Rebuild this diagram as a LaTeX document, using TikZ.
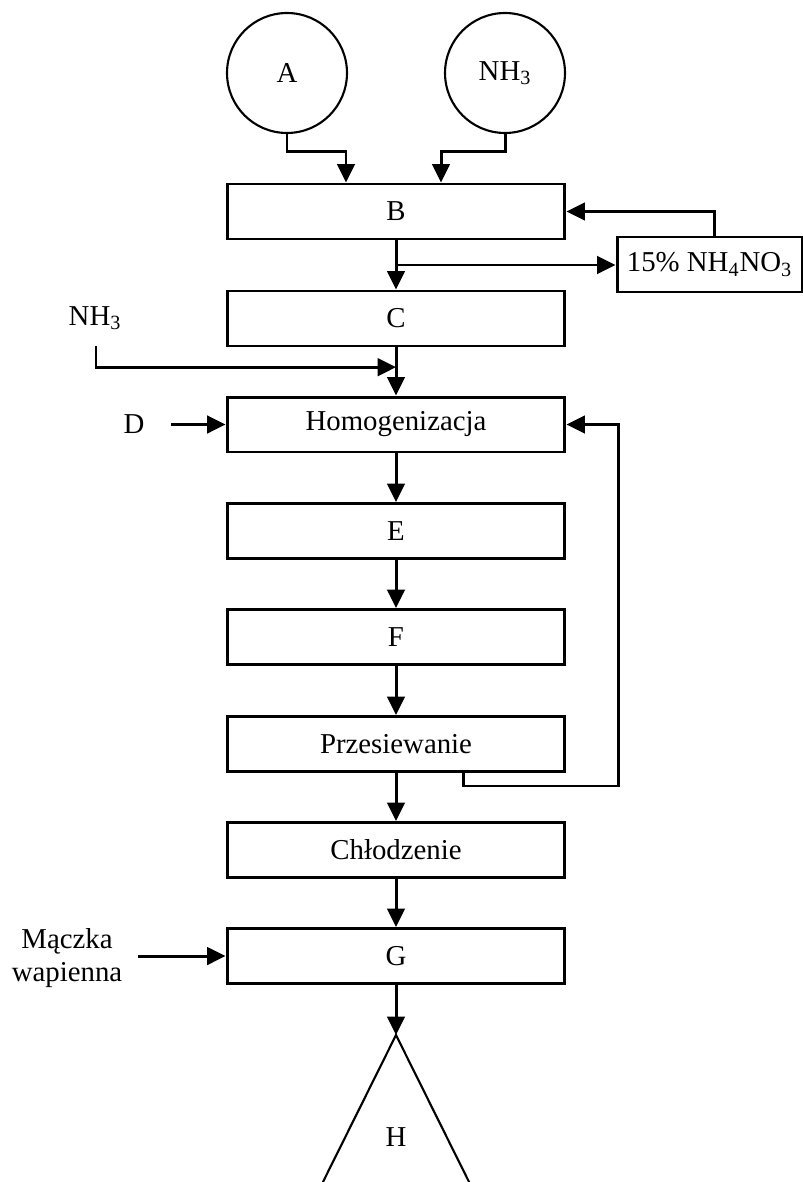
\documentclass[tikz,border=0pt]{standalone}
\usepackage{fontspec}
\setmainfont{Liberation Serif}
\usetikzlibrary{positioning,calc,arrows.meta}
\tikzset{>={Triangle[length=10.5pt,width=10pt]}}
\tikzset{
  proc/.style={draw, line width=1.7pt, minimum width=6.76cm, minimum height=1.1cm, inner sep=0pt},
  feed/.style={draw, circle, line width=1.2pt, minimum size=2.4cm, inner sep=0pt},
  flow/.style={line width=1.7pt}
}

\begin{document}
\begin{tikzpicture}[x=0.02cm, y=-0.02cm, font=\fontsize{16.4}{18.8}\selectfont]
        \useasboundingbox (0,0) rectangle (803,1182);
		% surowce
		\node[feed] (A) at (287,73) {A};
		\node[feed] (amon) at (505,73) {NH\textsubscript{3}};
		% ciag aparatow
		\node[proc] (B) at (396,211.5) {B};
		\node[proc, minimum width=3.7cm] (azot) at (709.5,264.5) {15\% NH\textsubscript{4}NO\textsubscript{3}};
		\node[proc] (C) at (396,318.5) {C};
		\node[proc] (homog) at (396,424.5) {Homogenizacja};
		\node[proc] (E) at (396,531) {E};
		\node[proc] (F) at (396,637) {F};
		\node[proc] (przes) at (396,744) {Przesiewanie};
		\node[proc] (chlodz) at (396,850) {Chłodzenie};
		\node[proc] (G) at (396,956) {G};
		% wejscia boczne
		\node (amon2) at (95,318) {NH\textsubscript{3}};
		\node (D) at (134,424) {D};
		\node[align=center] (maczka) at (67,958) {Mączka\\wapienna};
		% produkt
		\coordinate (szczyt) at (396,1035);
		\draw[line width=1.2pt] (314,1200) -- (szczyt) -- (478,1200);
		\node (H) at (396,1137) {H};
		% polaczenia
		\draw[flow,->] (A.south) -- ++(0,17) -| ($(B.north)+(-50,0)$);
		\draw[flow,->] (amon.south) -- ++(0,17) -| ($(B.north)+(45,0)$);
		\draw[flow,->] (B) -- (C);
		\coordinate (rozg) at ($(B.south)!0.5!(C.north)$);
		\draw[flow,->] (rozg) -- (rozg -| azot.west);
		\draw[flow,->] ($(azot.north)+(5,0)$) |- (B.east);
		\draw[flow,->] ($(amon2.south)+(1,10)$) |- ($(C.south)!0.41!(homog.north)$);
		\draw[flow,->] (C) -- (homog);
		\draw[flow,->, shorten <=0.4cm] (D.east |- homog.west) -- (homog.west);
		\foreach \a/\b in {homog/E, E/F, F/przes, przes/chlodz, chlodz/G}
		{
			\draw[flow,->] (\a) -- (\b);
		}
		\draw[flow,->] ($(przes.south)+(67,0)$) -- ++(0,13) -| ($(homog.east)+(52,0)$) -- (homog.east);
		\draw[flow,->, shorten <=0.2cm] (maczka.east |- G.west) -- (G.west);
		\draw[flow,->] (G) -- (szczyt);
\end{tikzpicture}
\end{document}
